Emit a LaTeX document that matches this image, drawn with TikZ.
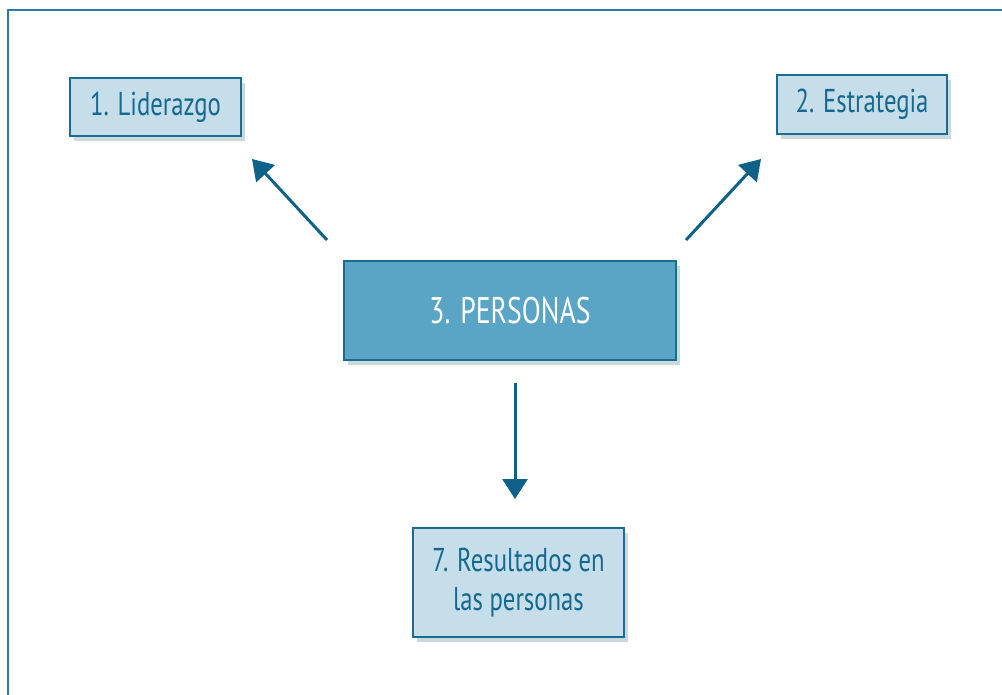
\documentclass[tikz,border=0pt]{standalone}
\usepackage{fontspec}
\setmainfont[FakeStretch=0.75]{PT Sans}
\usetikzlibrary{arrows.meta,shadows}
\definecolor{framec}{HTML}{2B7EA3}
\definecolor{lightfill}{HTML}{C6DDEA}
\definecolor{boxline}{HTML}{1C6C92}
\definecolor{textc}{HTML}{15688E}
\definecolor{mainfill}{HTML}{5AA4C5}
\definecolor{arrowc}{HTML}{0E6289}
\tikzset{
  softshadow/.style={drop shadow={shadow xshift=4pt,shadow yshift=-5pt,opacity=0.22,fill=boxline!70!black}},
  lightbox/.style={draw=boxline,line width=1.2pt,fill=lightfill,text=textc,align=center,inner sep=0pt,softshadow,font=\fontsize{33}{39}\selectfont},
  mainbox/.style={draw=boxline,line width=1.2pt,fill=mainfill,text=white,align=center,inner sep=0pt,softshadow,font=\fontsize{37}{42}\selectfont},
  arr/.style={draw=arrowc,line width=3pt,-{Triangle[length=20pt,width=25pt]}},
}
\begin{document}
\begin{tikzpicture}[x=1pt,y=-1pt]
\useasboundingbox (0,0) rectangle (1002,695);
\draw[framec,line width=1.6pt] (8,700) -- (8,10) -- (1010,10);
\node[lightbox,minimum width=171pt,minimum height=58pt] (lid) at (155.5,107) {1. Liderazgo};
\node[lightbox,minimum width=170pt,minimum height=59pt] (est) at (862,104.5) {2. Estrategia};
\node[mainbox,minimum width=332pt,minimum height=99pt] (per) at (510,310.5) {3. PERSONAS};
\node[lightbox,minimum width=211pt,minimum height=109pt] (res) at (518.5,582.5) {7. Resultados en\\las personas};
\coordinate (a1s) at (327,240);
\coordinate (a1e) at (252,159);
\coordinate (a2s) at (686,240);
\coordinate (a2e) at (761,159);
\coordinate (a3s) at (515,383);
\coordinate (a3e) at (515,499);
\draw[arr] (a1s) -- (a1e);
\draw[arr] (a2s) -- (a2e);
\draw[arr] (a3s) -- (a3e);
\end{tikzpicture}
\end{document}
